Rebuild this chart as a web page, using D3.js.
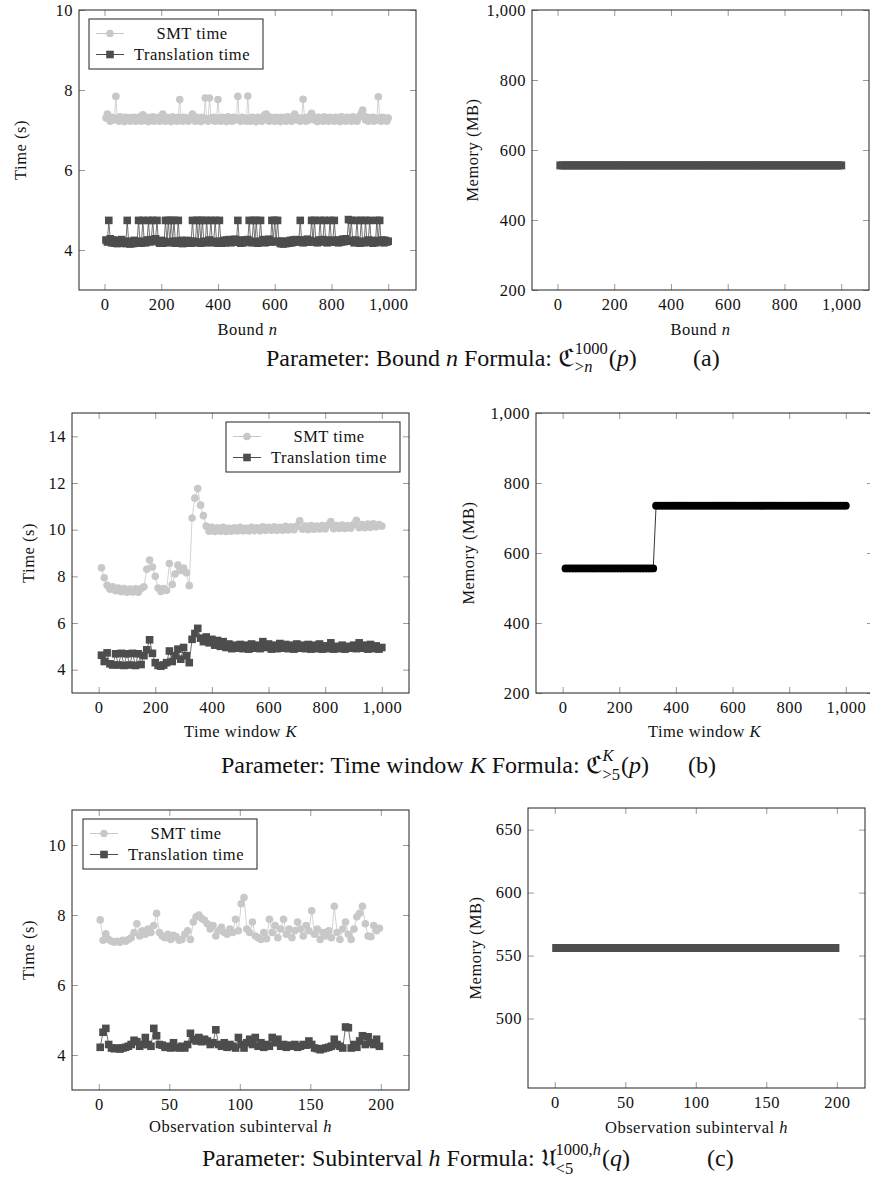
<!DOCTYPE html>
<html>
<head>
<meta charset="utf-8">
<script src="https://cdn.jsdelivr.net/npm/d3@7"></script>
<style>
body { margin: 0; background: #fff; }
.cap { white-space: pre; }
</style>
</head>
<body>
<div id="chart"></div>
<script>
const FONT = "'Liberation Serif', 'Times New Roman', serif";

// parameter sweeps (x values)
const boundN5 = d3.range(5, 1001, 5);    // (a) bound n, time series
const boundN = d3.range(10, 1001, 10);   // (a) bound n, memory
const windowK = d3.range(10, 1001, 10);  // (b) time window K
const subH = d3.range(1, 200, 2);        // (c) observation subinterval h

// (a) times (s), n = 5..1000
const smtA = [
  7.3, 7.4, 7.3, 7.22, 7.32, 7.25, 7.3, 7.84, 7.28, 7.22, 7.33, 7.25, 7.3, 7.21, 7.32, 7.26, 7.3, 7.22, 7.31, 7.24,
  7.32, 7.22, 7.3, 7.25, 7.33, 7.22, 7.38, 7.3, 7.24, 7.32, 7.21, 7.3, 7.26, 7.33, 7.22, 7.3, 7.25, 7.32, 7.22, 7.3,
  7.4, 7.28, 7.22, 7.32, 7.25, 7.3, 7.21, 7.33, 7.25, 7.3, 7.22, 7.32, 7.76, 7.3, 7.22, 7.32, 7.25, 7.3, 7.22, 7.31,
  7.33, 7.4, 7.28, 7.22, 7.32, 7.25, 7.3, 7.21, 7.32, 7.25, 7.8, 7.28, 7.22, 7.8, 7.3, 7.25, 7.32, 7.22, 7.3, 7.76,
  7.3, 7.22, 7.32, 7.25, 7.3, 7.21, 7.33, 7.25, 7.3, 7.22, 7.32, 7.25, 7.3, 7.84, 7.28, 7.22, 7.32, 7.25, 7.3, 7.22,
  7.85, 7.3, 7.22, 7.32, 7.25, 7.3, 7.21, 7.32, 7.26, 7.3, 7.22, 7.33, 7.38, 7.4, 7.3, 7.22, 7.32, 7.25, 7.3, 7.22,
  7.32, 7.25, 7.3, 7.21, 7.32, 7.25, 7.3, 7.22, 7.33, 7.25, 7.32, 7.22, 7.3, 7.4, 7.32, 7.25, 7.3, 7.22, 7.3, 7.77,
  7.3, 7.22, 7.32, 7.25, 7.3, 7.42, 7.33, 7.25, 7.3, 7.21, 7.32, 7.25, 7.3, 7.22, 7.33, 7.25, 7.3, 7.22, 7.32, 7.26,
  7.3, 7.22, 7.32, 7.25, 7.3, 7.21, 7.33, 7.25, 7.3, 7.22, 7.32, 7.25, 7.3, 7.22, 7.33, 7.26, 7.3, 7.22, 7.32, 7.35,
  7.42, 7.5, 7.35, 7.25, 7.32, 7.22, 7.3, 7.25, 7.32, 7.22, 7.3, 7.25, 7.83, 7.3, 7.22, 7.32, 7.25, 7.3, 7.22, 7.3
];
const transA = [
  4.25, 4.2, 4.74, 4.28, 4.18, 4.25, 4.17, 4.24, 4.16, 4.22, 4.18, 4.26, 4.17, 4.22, 4.16, 4.74, 4.2, 4.15, 4.22, 4.16,
  4.24, 4.17, 4.22, 4.74, 4.2, 4.17, 4.74, 4.22, 4.18, 4.25, 4.74, 4.2, 4.26, 4.74, 4.22, 4.28, 4.74, 4.2, 4.17, 4.24,
  4.17, 4.22, 4.74, 4.2, 4.74, 4.18, 4.74, 4.22, 4.74, 4.17, 4.22, 4.74, 4.18, 4.24, 4.16, 4.22, 4.17, 4.24, 4.18, 4.22,
  4.17, 4.74, 4.22, 4.18, 4.74, 4.2, 4.74, 4.17, 4.74, 4.22, 4.18, 4.74, 4.2, 4.25, 4.74, 4.18, 4.22, 4.74, 4.2, 4.17,
  4.74, 4.22, 4.17, 4.24, 4.18, 4.25, 4.2, 4.26, 4.18, 4.24, 4.2, 4.27, 4.2, 4.74, 4.22, 4.17, 4.25, 4.18, 4.24, 4.2,
  4.26, 4.74, 4.22, 4.18, 4.74, 4.2, 4.74, 4.17, 4.22, 4.74, 4.2, 4.26, 4.18, 4.24, 4.2, 4.27, 4.2, 4.74, 4.22, 4.74,
  4.2, 4.74, 4.22, 4.16, 4.22, 4.15, 4.2, 4.16, 4.22, 4.17, 4.24, 4.18, 4.25, 4.2, 4.26, 4.2, 4.25, 4.74, 4.22, 4.18,
  4.25, 4.2, 4.27, 4.2, 4.24, 4.74, 4.2, 4.74, 4.22, 4.18, 4.25, 4.74, 4.2, 4.26, 4.74, 4.22, 4.18, 4.25, 4.74, 4.2,
  4.24, 4.74, 4.2, 4.25, 4.18, 4.24, 4.2, 4.27, 4.21, 4.28, 4.22, 4.76, 4.24, 4.74, 4.22, 4.18, 4.25, 4.74, 4.2, 4.17,
  4.74, 4.22, 4.18, 4.74, 4.2, 4.25, 4.74, 4.2, 4.17, 4.24, 4.18, 4.74, 4.22, 4.74, 4.2, 4.25, 4.18, 4.24, 4.2, 4.22
];
// (a) memory (MB), n = 10..1000
const memA = [
  556, 556, 556, 556, 556, 556, 556, 556, 556, 556, 556, 556, 556, 556, 556, 556, 556, 556, 556, 556,
  556, 556, 556, 556, 556, 556, 556, 556, 556, 556, 556, 556, 556, 556, 556, 556, 556, 556, 556, 556,
  556, 556, 556, 556, 556, 556, 556, 556, 556, 556, 556, 556, 556, 556, 556, 556, 556, 556, 556, 556,
  556, 556, 556, 556, 556, 556, 556, 556, 556, 556, 556, 556, 556, 556, 556, 556, 556, 556, 556, 556,
  556, 556, 556, 556, 556, 556, 556, 556, 556, 556, 556, 556, 556, 556, 556, 556, 556, 556, 556, 556
];

// (b) K = 10..1000
const smtB = [
  8.37, 7.94, 7.62, 7.45, 7.55, 7.38, 7.5, 7.34, 7.48, 7.32,
  7.46, 7.33, 7.47, 7.32, 7.48, 7.55, 8.3, 8.7, 8.4, 8.0,
  7.5, 7.35, 7.48, 7.4, 8.55, 7.65, 8.1, 8.48, 8.25, 8.35,
  8.15, 7.6, 10.5, 11.35, 11.76, 11.05, 10.6, 10.15,
  9.93, 10.1, 9.92, 10.08, 9.93, 10.1, 9.92, 10.06, 9.93, 10.08,
  9.94, 10.1, 9.95, 10.06, 9.94, 10.1, 9.96, 10.08, 9.95, 10.12,
  9.97, 10.1, 9.98, 10.12, 9.97, 10.1, 9.98, 10.14, 9.99, 10.12,
  10.0, 10.15, 10.38, 10.02, 10.15, 10.0, 10.18, 10.02, 10.15, 10.03,
  10.18, 10.03, 10.2, 10.35, 10.04, 10.18, 10.05, 10.2, 10.05, 10.18,
  10.06, 10.22, 10.4, 10.08, 10.22, 10.08, 10.24, 10.1, 10.25, 10.12,
  10.22, 10.15
];
const transB = [
  4.62, 4.35, 4.72, 4.25, 4.2, 4.68, 4.2, 4.7, 4.18, 4.68,
  4.2, 4.7, 4.18, 4.68, 4.22, 4.6, 4.85, 5.28, 4.7, 4.3,
  4.18, 4.15, 4.2, 4.3, 4.8, 4.35, 4.6, 4.88, 4.45, 4.95,
  4.6, 4.3, 5.3, 5.55, 5.77, 5.35, 5.2, 5.4, 5.15, 5.3,
  5.05, 5.25, 5.0, 5.2, 4.95, 5.1, 4.9, 5.05, 4.92, 5.08,
  4.9, 5.05, 4.88, 5.1, 4.92, 5.05, 4.9, 5.2, 4.95, 5.1,
  4.88, 5.05, 4.9, 5.12, 4.92, 5.08, 4.9, 5.05, 4.88, 5.1,
  4.92, 5.05, 4.9, 5.08, 4.88, 5.05, 4.9, 5.1, 4.88, 5.02,
  4.9, 5.15, 4.88, 5.0, 4.9, 5.05, 4.88, 5.0, 4.92, 5.05,
  4.9, 5.15, 4.92, 5.05, 4.88, 5.08, 4.9, 5.02, 4.88, 4.95
];
const memB = [
  556, 556, 556, 556, 556, 556, 556, 556, 556, 556, 556, 556, 556, 556, 556, 556,
  556, 556, 556, 556, 556, 556, 556, 556, 556, 556, 556, 556, 556, 556, 556, 556,
  735, 735, 735, 735, 735, 735, 735, 735, 735, 735, 735, 735, 735, 735, 735, 735, 735,
  735, 735, 735, 735, 735, 735, 735, 735, 735, 735, 735, 735, 735, 735, 735, 735, 735,
  735, 735, 735, 735, 735, 735, 735, 735, 735, 735, 735, 735, 735, 735, 735, 735, 735,
  735, 735, 735, 735, 735, 735, 735, 735, 735, 735, 735, 735, 735, 735, 735, 735, 735
];

// (c) h = 1..199
const smtC = [
  7.86, 7.28, 7.46, 7.3, 7.25, 7.22, 7.25, 7.22, 7.28, 7.25,
  7.3, 7.35, 7.5, 7.75, 7.4, 7.55, 7.45, 7.6, 7.5, 7.7,
  8.05, 7.5, 7.4, 7.35, 7.45, 7.3, 7.42, 7.38, 7.28, 7.3,
  7.45, 7.55, 7.3, 7.8, 7.95, 8.0, 7.9, 7.85, 7.75, 7.6,
  7.7, 7.4, 7.55, 7.65, 7.5, 7.45, 7.6, 7.5, 7.88, 7.55,
  8.32, 8.5, 7.6, 7.5, 7.8, 7.4, 7.35, 7.3, 7.5, 7.32,
  7.88, 7.5, 7.7, 7.35, 7.6, 7.88, 7.45, 7.6, 7.35, 7.55,
  7.8, 7.6, 7.4, 7.7, 7.55, 8.12, 7.45, 7.6, 7.3, 7.5,
  7.4, 7.55, 7.35, 8.25, 7.5, 7.3, 7.6, 7.8, 7.45, 7.3,
  7.6, 7.95, 8.05, 8.25, 7.75, 7.4, 7.38, 7.7, 7.55, 7.62
];
const transC = [
  4.22, 4.65, 4.76, 4.3, 4.2, 4.18, 4.2, 4.17, 4.2, 4.22,
  4.25, 4.3, 4.42, 4.38, 4.25, 4.3, 4.5, 4.3, 4.25, 4.76,
  4.55, 4.3, 4.28, 4.22, 4.25, 4.2, 4.35, 4.22, 4.2, 4.25,
  4.2, 4.3, 4.62, 4.45, 4.4, 4.5, 4.38, 4.45, 4.4, 4.3,
  4.35, 4.72, 4.3, 4.25, 4.35, 4.22, 4.3, 4.25, 4.2, 4.5,
  4.3, 4.2, 4.35, 4.45, 4.3, 4.5, 4.25, 4.35, 4.22, 4.3,
  4.25, 4.5, 4.35, 4.45, 4.25, 4.3, 4.22, 4.28, 4.25, 4.3,
  4.22, 4.25, 4.3, 4.28, 4.4, 4.3, 4.2, 4.18, 4.15, 4.18,
  4.2, 4.22, 4.25, 4.45, 4.3, 4.25, 4.2, 4.8, 4.78, 4.2,
  4.3, 4.22, 4.4, 4.55, 4.3, 4.52, 4.35, 4.3, 4.45, 4.25
];
const memC = [
  556, 556, 556, 556, 556, 556, 556, 556, 556, 556, 556, 556, 556, 556, 556, 556, 556, 556, 556, 556,
  556, 556, 556, 556, 556, 556, 556, 556, 556, 556, 556, 556, 556, 556, 556, 556, 556, 556, 556, 556,
  556, 556, 556, 556, 556, 556, 556, 556, 556, 556, 556, 556, 556, 556, 556, 556, 556, 556, 556, 556,
  556, 556, 556, 556, 556, 556, 556, 556, 556, 556, 556, 556, 556, 556, 556, 556, 556, 556, 556, 556,
  556, 556, 556, 556, 556, 556, 556, 556, 556, 556, 556, 556, 556, 556, 556, 556, 556, 556, 556, 556
];

// tick values
const ticksX1000 = [0, 200, 400, 600, 800, 1000];
const ticksX200 = [0, 50, 100, 150, 200];
const ticksTimeA = [4, 6, 8, 10];
const ticksTimeB = [4, 6, 8, 10, 12, 14];
const ticksTimeC = [4, 6, 8, 10];
const ticksMem = [200, 400, 600, 800, 1000];
const ticksMemC = [500, 550, 600, 650];

const legendNames = ["SMT time", "Translation time"];

const smtStyle = {color: "#c8c8c8", mark: "circle", size: 3.8},
      transStyle = {color: "#4d4d4d", mark: "square", size: 7.6},
      memStyle = {color: "#4d4d4d", mark: "square", size: 8},
      memStyleB = {color: "#000", mark: "circle", size: 3.9};

const svg = d3.select("#chart").append("svg")
    .attr("width", 870)
    .attr("height", 1181)
    .style("font-family", FONT);

const panels = [
  {left: 79, right: 416, top: 10, bottom: 290, xd: [-90, 1098], yd: [3, 10], xt: ticksX1000, yt: ticksTimeA,
   series: [[boundN5, smtA, smtStyle], [boundN5, transA, transStyle]], xLabel: ["Bound ", "n"], yLabel: "Time (s)",
   yLabelX: 20, xLabelY: 335, legend: [89, 19]},
  {left: 532, right: 869, top: 10, bottom: 290, xd: [-90, 1098], yd: [200, 1000], xt: ticksX1000, yt: ticksMem,
   series: [[boundN, memA, memStyle]], xLabel: ["Bound ", "n"], yLabel: "Memory (MB)",
   yLabelX: 472, xLabelY: 335},
  {left: 72, right: 409, top: 413, bottom: 693, xd: [-94, 1096], yd: [3, 15], xt: ticksX1000, yt: ticksTimeB,
   series: [[windowK, smtB, smtStyle], [windowK, transB, transStyle]], xLabel: ["Time window ", "K"], yLabel: "Time (s)",
   yLabelX: 28, xLabelY: 737, legend: [226, 422]},
  {left: 536, right: 873, top: 413, bottom: 693, xd: [-94, 1096], yd: [200, 1000], xt: ticksX1000, yt: ticksMem,
   series: [[windowK, memB, memStyleB]], xLabel: ["Time window ", "K"], yLabel: "Memory (MB)",
   yLabelX: 468, xLabelY: 737},
  {left: 72, right: 409, top: 810, bottom: 1090, xd: [-19, 220], yd: [3, 11], xt: ticksX200, yt: ticksTimeC,
   series: [[subH, smtC, smtStyle], [subH, transC, transStyle]], xLabel: ["Observation subinterval ", "h"], yLabel: "Time (s)",
   yLabelX: 28, xLabelY: 1132, legend: [83, 819]},
  {left: 528, right: 865, top: 808, bottom: 1088, xd: [-19, 220], yd: [444.8, 667.2], xt: ticksX200, yt: ticksMemC,
   series: [[subH, memC, memStyle]], xLabel: ["Observation subinterval ", "h"], yLabel: "Memory (MB)",
   yLabelX: 475, xLabelY: 1133}
];

function styleText(sel) {
  return sel.style("font-family", FONT).style("font-size", "16.5px")
    .style("letter-spacing", "0.5px").attr("fill", "#111");
}

function drawMarks(g, pts, st) {
  if (st.mark == "circle") {
    g.selectAll(null).data(pts).enter().append("circle")
      .attr("cx", d => d[0]).attr("cy", d => d[1]).attr("r", st.size)
      .attr("fill", st.color);
  } else {
    g.selectAll(null).data(pts).enter().append("rect")
      .attr("x", d => d[0] - st.size / 2).attr("y", d => d[1] - st.size / 2)
      .attr("width", st.size).attr("height", st.size)
      .attr("fill", st.color);
  }
}

function drawPanel(p) {
  const x = d3.scaleLinear().domain(p.xd).range([p.left, p.right]),
        y = d3.scaleLinear().domain(p.yd).range([p.bottom, p.top]);
  const g = svg.append("g");

  p.series.forEach(([xs, vals, st]) => {
    const pts = vals.map((v, i) => [x(xs[i]), y(v)]);
    g.append("path")
      .attr("d", d3.line()(pts))
      .attr("fill", "none")
      .attr("stroke", st.color)
      .attr("stroke-width", 0.8);
    drawMarks(g.append("g"), pts, st);
  });

  const fmt = d3.format(",");
  const axes = [
    [d3.axisBottom(x).tickValues(p.xt).tickFormat(fmt), `translate(0,${p.bottom})`],
    [d3.axisTop(x).tickValues(p.xt).tickFormat(""), `translate(0,${p.top})`],
    [d3.axisLeft(y).tickValues(p.yt).tickFormat(fmt), `translate(${p.left},0)`],
    [d3.axisRight(y).tickValues(p.yt).tickFormat(""), `translate(${p.right},0)`]
  ];
  axes.forEach(([ax, tr], k) => {
    const a = g.append("g")
      .attr("transform", tr)
      .call(ax.tickSize(-6).tickPadding(k == 0 ? 8 : 6));
    a.attr("font-family", null).attr("font-size", null);
    a.select(".domain").remove();
    a.selectAll(".tick line").attr("stroke", "#9a9a9a");
    styleText(a.selectAll(".tick text"));
  });

  g.append("rect")
    .attr("x", p.left).attr("y", p.top)
    .attr("width", p.right - p.left).attr("height", p.bottom - p.top)
    .attr("fill", "none").attr("stroke", "#222").attr("stroke-width", 1);

  const xl = styleText(g.append("text"))
    .attr("x", (p.left + Math.min(p.right, 869)) / 2 + (p.right > 869 ? 2 : 0))
    .attr("y", p.xLabelY)
    .attr("text-anchor", "middle")
    .text(p.xLabel[0]);
  xl.append("tspan").style("font-style", "italic").text(p.xLabel[1]);

  styleText(g.append("text"))
    .attr("transform", `translate(${p.yLabelX},${(p.top + p.bottom) / 2}) rotate(-90)`)
    .attr("text-anchor", "middle")
    .attr("dominant-baseline", "central")
    .text(p.yLabel);

  if (p.legend) {
    const [lx, ly] = p.legend;
    const lg = g.append("g").attr("transform", `translate(${lx},${ly})`);
    lg.append("rect").attr("width", 174).attr("height", 50)
      .attr("fill", "#fff").attr("stroke", "#222").attr("stroke-width", 1);
    p.series.forEach(([xs, vals, st], i) => {
      const ry = 14.5 + i * 21;
      lg.append("line").attr("x1", 7).attr("x2", 35).attr("y1", ry).attr("y2", ry)
        .attr("stroke", st.color).attr("stroke-width", 1);
      drawMarks(lg.append("g"), [[21, ry]], st);
      styleText(lg.append("text"))
        .attr("x", 103).attr("y", ry)
        .attr("text-anchor", "middle")
        .attr("dominant-baseline", "central")
        .text(legendNames[i]);
    });
  }
}

panels.forEach(drawPanel);

// captions
const captions = [
  {x: 266, y: 366, supDy: -12, subDy: 6, tag: "(a)", tagX: 693, parts: [
    {t: "Parameter: Bound "}, {t: "n", it: true}, {t: " Formula: "}, {t: "ℭ", fr: true},
    {t: "1000", sup: true}, {t: ">", sub: true}, {t: "n", sub: true, it: true},
    {t: "("}, {t: "p", it: true}, {t: ")"}]},
  {x: 221, y: 773, supDy: -12, subDy: 7, tag: "(b)", tagX: 688, parts: [
    {t: "Parameter: Time window "}, {t: "K", it: true}, {t: " Formula: "}, {t: "ℭ", fr: true},
    {t: "K", sup: true, it: true}, {t: ">5", sub: true},
    {t: "("}, {t: "p", it: true}, {t: ")"}]},
  {x: 202, y: 1166, supDy: -11, subDy: 8, tag: "(c)", tagX: 707, parts: [
    {t: "Parameter: Subinterval "}, {t: "h", it: true}, {t: " Formula: "}, {t: "𝔘", fr: true},
    {t: "1000,", sup: true}, {t: "h", sup: true, it: true}, {t: "<5", sub: true},
    {t: "("}, {t: "q", it: true}, {t: ")"}]}
];

function drawCaption(c) {
  const g = svg.append("g");
  let cur = c.x, supX = null, subX = null;
  c.parts.forEach(p => {
    let xx, dy = 0, size = 24;
    if (p.sup) {
      if (supX === null) supX = cur;
      xx = supX; dy = c.supDy; size = 16.5;
    } else if (p.sub) {
      if (subX === null) subX = cur;
      xx = subX; dy = c.subDy; size = 16.5;
    } else {
      if (supX !== null || subX !== null) {
        cur = Math.max(supX ?? cur, subX ?? cur) + 1;
        supX = subX = null;
      }
      xx = cur;
    }
    const t = g.append("text").attr("class", "cap")
      .attr("x", xx).attr("y", c.y + dy)
      .attr("fill", "#111")
      .style("font-family", p.fr ? "'DejaVu Serif','DejaVu Sans','Noto Sans',serif" : FONT)
      .style("font-size", size + "px")
      .style("font-style", p.it ? "italic" : "normal")
      .text(p.t);
    const w = t.node().getComputedTextLength();
    if (p.sup) supX += w;
    else if (p.sub) subX += w;
    else cur += w;
  });
  g.append("text").attr("class", "cap")
    .attr("x", c.tagX).attr("y", c.y)
    .attr("fill", "#111")
    .style("font-family", FONT)
    .style("font-size", "24px")
    .text(c.tag);
}

captions.forEach(drawCaption);
</script>
</body>
</html>
